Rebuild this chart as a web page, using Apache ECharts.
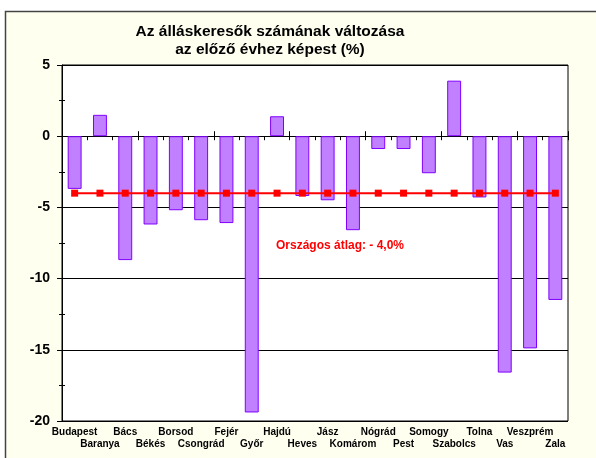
<!DOCTYPE html>
<html>
<head>
<meta charset="utf-8">
<script src="https://cdn.jsdelivr.net/npm/echarts@6/dist/echarts.min.js"></script>
<style>
  html, body { margin: 0; padding: 0; background: #ffffff; }
  #chart { width: 596px; height: 458px; }
</style>
</head>
<body>
<div id="chart"></div>
<script>
// megyék
var megyek = ['Budapest', 'Baranya', 'Bács', 'Békés', 'Borsod', 'Csongrád', 'Fejér', 'Győr', 'Hajdú', 'Heves',
  'Jász', 'Komárom', 'Nógrád', 'Pest', 'Somogy', 'Szabolcs', 'Tolna', 'Vas', 'Veszprém', 'Zala'];
// változás az előző évhez (%)
var valtozas = [-3.7, 1.5, -8.7, -6.2, -5.2, -5.9, -6.1, -19.4, 1.4, -4.2,
  -4.5, -6.6, -0.9, -0.9, -2.6, 3.9, -4.3, -16.6, -14.9, -11.5];
// országos átlag
var atlag = [-4, -4, -4, -4, -4, -4, -4, -4, -4, -4, -4, -4, -4, -4, -4, -4, -4, -4, -4, -4];
var yTicks = [-20, -15, -10, -5, 0, 5];

(function() {
  var myChart = echarts.init(document.getElementById('chart'));
  var font = 'Arial, "Liberation Sans", sans-serif';
  var option = {
    backgroundColor: '#ffffff',
    animation: false,
    graphic: [
      // külső keret
      {
        type: 'rect', z: -10,
        shape: { x: 5.5, y: 11.5, width: 600, height: 460 },
        style: { fill: '#fffff0', stroke: '#444444', lineWidth: 1.5 }
      },
      {
        type: 'text', x: 270, y: 23,
        style: {
          text: 'Az álláskeresők számának változása\naz előző évhez képest (%)',
          font: 'bold 15.5px ' + font, fill: '#000', textAlign: 'center', lineHeight: 17.5
        }
      },
      {
        type: 'text', x: 276, y: 240,
        style: { text: 'Országos átlag: - 4,0%', font: 'bold 12px ' + font, fill: '#ff0000' }
      }
    ],
    grid: {
      left: 62, right: 28, top: 65, bottom: 37,
      show: true, backgroundColor: '#ffffff', borderColor: '#000000', borderWidth: 1
    },
    xAxis: [
      {
        type: 'category',
        data: megyek,
        axisLine: { lineStyle: { color: '#000', width: 1 } },
        axisTick: { show: true, length: 4, lineStyle: { color: '#000' } },
        axisLabel: {
          interval: 0, margin: 5, color: '#000', fontSize: 10, fontWeight: 'bold',
          fontFamily: font, lineHeight: 12,
          formatter: function(v, i) { return i % 2 ? '\n' + v : v; }
        }
      },
      {
        type: 'category', position: 'bottom',
        data: megyek,
        axisLine: { show: false },
        axisTick: { show: true, inside: true, length: 5, lineStyle: { color: '#000' } },
        axisLabel: { show: false }
      }
    ],
    yAxis: [
      {
        type: 'value', min: yTicks[0], max: yTicks[yTicks.length - 1], interval: 5,
        axisLine: { show: true, lineStyle: { color: '#000' } },
        axisTick: { show: true, length: 5, lineStyle: { color: '#000' } },
        minorTick: { show: true, splitNumber: 2, length: 3, lineStyle: { color: '#000' } },
        axisLabel: { margin: 12, color: '#000', fontSize: 14, fontWeight: 'bold', fontFamily: font },
        splitLine: { show: true, lineStyle: { color: '#000', width: 1 } }
      },
      {
        type: 'value', min: yTicks[0], max: yTicks[yTicks.length - 1], interval: 5, position: 'left',
        axisLine: { show: false },
        axisTick: { show: true, inside: true, length: 4, lineStyle: { color: '#000' } },
        minorTick: { show: true, splitNumber: 2, length: 3, lineStyle: { color: '#000' } },
        axisLabel: { show: false },
        splitLine: { show: false }
      }
    ],
    series: [
      {
        name: 'Változás',
        type: 'bar',
        data: valtozas,
        barWidth: '55%',
        itemStyle: { color: '#c080ff', borderColor: '#8000ff', borderWidth: 1 }
      },
      {
        name: 'Országos átlag',
        type: 'line',
        data: atlag,
        symbol: 'rect',
        symbolSize: 7,
        itemStyle: { color: '#ff0000' },
        lineStyle: { color: '#ff0000', width: 2 },
        z: 5
      }
    ]
  };
  myChart.setOption(option);
})();
</script>
</body>
</html>
